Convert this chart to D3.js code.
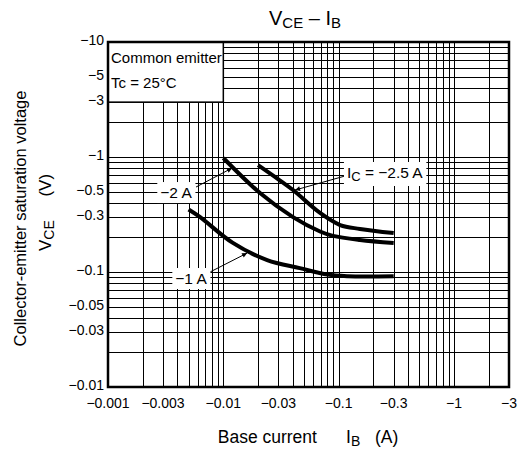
<!DOCTYPE html>
<html>
<head>
<meta charset="utf-8" />
<title>VCE – IB</title>
<script src="https://d3js.org/d3.v7.min.js"></script>
<style>
  body { margin: 0; background: #fff; }
  svg { display: block; font-family: Arial, "Liberation Sans", sans-serif; }
</style>
</head>
<body>
<div id="chart"></div>
<script>
// Values are magnitudes; the chart shows them as negatives (PNP device).
const ibTicks = [0.001, 0.003, 0.01, 0.03, 0.1, 0.3, 1, 3];
const ibTickLabels = ["−0.001", "−0.003", "−0.01", "−0.03", "−0.1", "−0.3", "−1", "−3"];
const vceTicks = [10, 5, 3, 1, 0.5, 0.3, 0.1, 0.05, 0.03, 0.01];
const vceTickLabels = ["−10", "−5", "−3", "−1", "−0.5", "−0.3", "−0.1", "−0.05", "−0.03", "−0.01"];

// IC = -1 A
const ib_1A = [0.005, 0.0063, 0.012, 0.024, 0.046, 0.08, 0.12, 0.3];
const vce_1A = [0.35, 0.30, 0.18, 0.127, 0.108, 0.095, 0.092, 0.092];
// IC = -2 A
const ib_2A = [0.01, 0.0208, 0.0402, 0.069, 0.0894, 0.153, 0.3];
const vce_2A = [0.98, 0.486, 0.30, 0.225, 0.206, 0.19, 0.179];
// IC = -2.5 A
const ib_25A = [0.02, 0.03, 0.0402, 0.069, 0.103, 0.153, 0.3];
const vce_25A = [0.85, 0.64, 0.516, 0.326, 0.256, 0.237, 0.218];

const width = 521, height = 452;
const mLeft = 108, mRight = 509, mTop = 42, mBottom = 387;

const svg = d3.select("#chart").append("svg")
  .attr("width", width).attr("height", height);

const x = d3.scaleLog().domain([0.001, 3]).range([mLeft, mRight]);
const y = d3.scaleLog().domain([0.01, 10]).range([mBottom, mTop]);

// grid: every 1..9 multiple of each decade
const xGrid = [], yGrid = [];
[0.001, 0.01, 0.1, 1].forEach(d => {
  for (let k = 1; k <= 9; k++) if (d * k <= 3.0001) xGrid.push(d * k);
});
[0.01, 0.1, 1].forEach(d => {
  for (let k = 1; k <= 9; k++) yGrid.push(d * k);
});
yGrid.push(10);
const isDecade = v => Math.abs(Math.log10(v) - Math.round(Math.log10(v))) < 1e-6;

const grid = svg.append("g").attr("stroke", "#000").attr("shape-rendering", "crispEdges");
grid.selectAll("line.gx").data(xGrid).join("line")
  .attr("class", "gx")
  .attr("x1", d => Math.round(x(d)) + 0.5).attr("x2", d => Math.round(x(d)) + 0.5)
  .attr("y1", mTop).attr("y2", mBottom)
  .attr("stroke-width", d => isDecade(d) ? 1.5 : 1);
grid.selectAll("line.gy").data(yGrid).join("line")
  .attr("class", "gy")
  .attr("y1", d => Math.round(y(d)) + 0.5).attr("y2", d => Math.round(y(d)) + 0.5)
  .attr("x1", mLeft).attr("x2", mRight)
  .attr("stroke-width", d => isDecade(d) ? 1.5 : 1);

// condition box in the upper-left corner
svg.append("rect")
  .attr("x", x(0.001)).attr("y", y(10))
  .attr("width", x(0.01) - x(0.001)).attr("height", y(3) - y(10))
  .attr("fill", "#fff").attr("stroke", "#000").attr("stroke-width", 1.5);
svg.append("text").attr("x", x(0.001) + 3).attr("y", y(10) + 21)
  .attr("font-size", 15).text("Common emitter");
svg.append("text").attr("x", x(0.001) + 3).attr("y", y(10) + 46)
  .attr("font-size", 15).text("Tc = 25°C");

// frame
svg.append("rect")
  .attr("x", mLeft).attr("y", mTop)
  .attr("width", mRight - mLeft).attr("height", mBottom - mTop)
  .attr("fill", "none").attr("stroke", "#000").attr("stroke-width", 2.5);

// curves
const series = [
  { ib: ib_1A, vce: vce_1A },
  { ib: ib_2A, vce: vce_2A },
  { ib: ib_25A, vce: vce_25A }
];
const line = d3.line()
  .x(d => x(d[0])).y(d => y(d[1]))
  .curve(d3.curveCatmullRom.alpha(0.5));
svg.append("g").selectAll("path").data(series).join("path")
  .attr("d", s => line(s.ib.map((v, i) => [v, s.vce[i]])))
  .attr("fill", "none").attr("stroke", "#000").attr("stroke-width", 4)
  .attr("stroke-linecap", "butt");

// arrow marker
svg.append("defs").append("marker")
  .attr("id", "arr").attr("viewBox", "0 0 10 10")
  .attr("refX", 10).attr("refY", 5)
  .attr("markerWidth", 10).attr("markerHeight", 5)
  .attr("markerUnits", "userSpaceOnUse")
  .attr("orient", "auto")
  .append("path").attr("d", "M0,0L10,5L0,10z").attr("fill", "#000");

// curve labels with arrows (positions in data units)
const notes = [
  { text: [["−2 A", false]], at: [0.00389, 0.486], anchor: "middle",
    from: [0.0058, 0.548], to: [0.01188, 0.80] },
  { text: [["−1 A", false]], at: [0.00525, 0.0869], anchor: "middle",
    from: [0.00767, 0.1], to: [0.01607, 0.146] },
  { text: [["I", false], ["C", true], [" = −2.5 A", false]], at: [0.118, 0.726], anchor: "start",
    from: [0.1138, 0.684], to: [0.0419, 0.516] }
];
notes.forEach(n => {
  svg.append("line")
    .attr("x1", x(n.from[0])).attr("y1", y(n.from[1]))
    .attr("x2", x(n.to[0])).attr("y2", y(n.to[1]))
    .attr("stroke", "#000").attr("stroke-width", 1)
    .attr("marker-end", "url(#arr)");
  const g = svg.append("g");
  const t = g.append("text")
    .attr("x", x(n.at[0])).attr("y", y(n.at[1]) + 5)
    .attr("text-anchor", n.anchor).attr("font-size", 15.5)
    .attr("xml:space", "preserve");
  n.text.forEach(([s, sub]) => {
    t.append("tspan").attr("font-size", sub ? 13 : 15.5)
      .attr("dy", sub ? 3 : (s.startsWith(" ") ? -3 : 0)).text(s);
  });
  const bb = t.node().getBBox();
  g.insert("rect", "text")
    .attr("x", bb.x - 3).attr("y", bb.y - 2)
    .attr("width", bb.width + 6).attr("height", bb.height + 4)
    .attr("fill", "#fff");
});

// tick labels
svg.append("g").selectAll("text").data(ibTicks).join("text")
  .attr("x", d => x(d)).attr("y", mBottom + 21)
  .attr("text-anchor", "middle").attr("font-size", 14)
  .text((d, i) => ibTickLabels[i]);
svg.append("g").selectAll("text").data(vceTicks).join("text")
  .attr("x", mLeft - 4).attr("y", d => y(d) + 3)
  .attr("text-anchor", "end").attr("font-size", 14)
  .text((d, i) => vceTickLabels[i]);

// title
const title = svg.append("text").attr("x", 305).attr("y", 25)
  .attr("text-anchor", "middle").attr("font-size", 20);
title.append("tspan").text("V");
title.append("tspan").attr("font-size", 15).attr("dy", 3).text("CE");
title.append("tspan").attr("dy", -3).text(" – I");
title.append("tspan").attr("font-size", 15).attr("dy", 3).text("B");

// x axis title
const xt = svg.append("text").attr("x", 308).attr("y", 443)
  .attr("text-anchor", "middle").attr("font-size", 17.5).attr("xml:space", "preserve");
xt.append("tspan").text("Base current      I");
xt.append("tspan").attr("font-size", 14).attr("dy", 3).text("B");
xt.append("tspan").attr("dy", -3).text("   (A)");

// y axis title
const yMid = (mTop + mBottom) / 2;
svg.append("text")
  .attr("transform", `translate(26,${yMid + 4}) rotate(-90)`)
  .attr("text-anchor", "middle").attr("font-size", 16.5)
  .text("Collector-emitter saturation voltage");
const yt = svg.append("text")
  .attr("transform", `translate(51,${yMid - 2}) rotate(-90)`)
  .attr("text-anchor", "middle").attr("font-size", 17).attr("xml:space", "preserve");
yt.append("tspan").text("V");
yt.append("tspan").attr("font-size", 14).attr("dy", 3).text("CE");
yt.append("tspan").attr("dy", -3).text("     (V)");
</script>
</body>
</html>
